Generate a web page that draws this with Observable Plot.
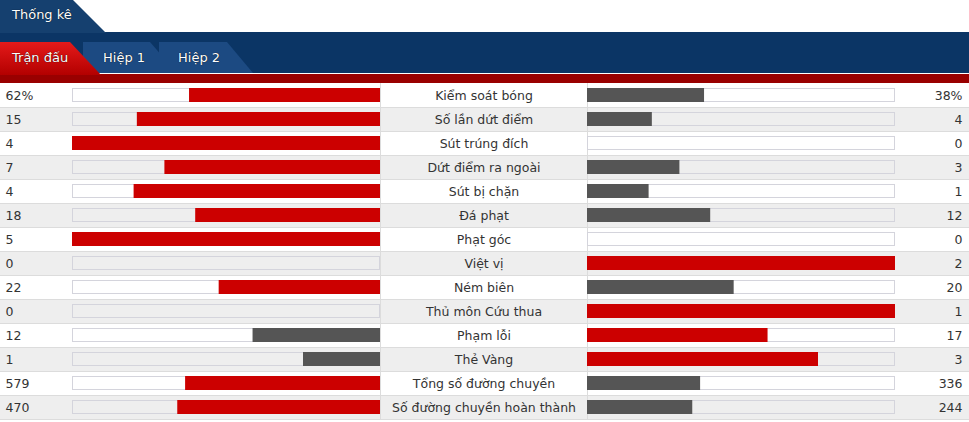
<!DOCTYPE html>
<html>
<head>
<meta charset="utf-8">
<script src="https://cdn.jsdelivr.net/npm/d3@7"></script>
<script src="https://cdn.jsdelivr.net/npm/@observablehq/plot@0.6"></script>
<style>
  html, body { margin: 0; padding: 0; background: #fff; }
  body { width: 969px; height: 422px; overflow: hidden; font-family: "DejaVu Sans", sans-serif; }
  #header { position: relative; width: 969px; height: 83px; }
  #header div { position: absolute; }
  .band { left: 0; top: 32px; width: 969px; height: 41px; background: #0b3565; }
  .white { left: 0; top: 73px; width: 969px; height: 1px; background: #fff; }
  .red { left: 0; top: 74px; width: 969px; height: 9px; background: #990000; }
  .tabTop { left: 0; top: 0; width: 106px; height: 33px; background: #15406f;
            clip-path: polygon(0 0, 73px 0, 106px 33px, 0 33px); }
  .tabRed { left: 0; top: 42px; width: 101px; height: 33px;
            background: linear-gradient(#e41a1a, #b30000);
            clip-path: polygon(0 0, 70px 0, 101px 33px, 0 33px); }
  .tabBlue { top: 42px; width: 95px; height: 31px; background: #1c4a82; }
  .lbl { color: #fff; font-size: 13px; white-space: nowrap; text-shadow: 0 0 1px #000; }
</style>
</head>
<body>
<div id="header">
  <div class="band"></div>
  <div class="white"></div>
  <div class="red"></div>
  <div class="tabTop"></div>
  <div class="tabBlue" style="left:83px; clip-path: polygon(0 0, 67px 0, 94px 31px, 0 31px);"></div>
  <div class="tabBlue" style="left:159px; clip-path: polygon(0 0, 68px 0, 94px 31px, 0 31px);"></div>
  <div class="tabRed"></div>
  <div class="lbl" style="left:12px; top:7px;">Thống kê</div>
  <div class="lbl" style="left:12px; top:50px;">Trận đấu</div>
  <div class="lbl" style="left:103px; top:50px;">Hiệp 1</div>
  <div class="lbl" style="left:178px; top:50px;">Hiệp 2</div>
</div>
<div id="chart"></div>
<script>
const stats = ["Kiểm soát bóng", "Số lần dứt điểm", "Sút trúng đích", "Dứt điểm ra ngoài", "Sút bị chặn", "Đá phạt", "Phạt góc", "Việt vị", "Ném biên", "Thủ môn Cứu thua", "Phạm lỗi", "Thẻ Vàng", "Tổng số đường chuyền", "Số đường chuyền hoàn thành"];
const homeValues = [62, 15, 4, 7, 4, 18, 5, 0, 22, 0, 12, 1, 579, 470];
const awayValues = [38, 4, 0, 3, 1, 12, 0, 2, 20, 1, 17, 3, 336, 244];
const valueSuffix = ["%", "", "", "", "", "", "", "", "", "", "", "", "", ""];

const RED = "#cc0000", GRAY = "#555555";
const W = 969, H = 339;
const unit = 308;              // bar track length in px
const gap = 103.5 / unit;      // half of centre column, in track units
const xMin = -483.5 / unit, xMax = (W - 483.5) / unit;
const rowsN = stats.length;

const rows = stats.map((s, i) => {
  const h = homeValues[i], a = awayValues[i], t = h + a;
  return {
    i, stat: s, home: h, away: a,
    hf: t ? h / t : 0, af: t ? a / t : 0,
    hLabel: h + valueSuffix[i], aLabel: a + valueSuffix[i],
    hColor: h > a ? RED : GRAY, aColor: a > h ? RED : GRAY,
    bg: i % 2 ? "#eeeeee" : "#ffffff"
  };
});

const bandInset = 5 / 24, bandInsetB = 19 / 24;

const chart = Plot.plot({
  width: W, height: H,
  margin: 0,
  x: { domain: [xMin, xMax], range: [0, W], axis: null },
  y: { domain: [0, H / 24], range: [0, H], axis: null },
  style: { fontFamily: "DejaVu Sans, sans-serif", fontSize: "12px", background: "#fff" },
  marks: [
    // row backgrounds
    Plot.rect(rows, { x1: xMin, x2: xMax, y1: d => d.i, y2: d => d.i + 1, fill: "bg" }),
    // row separators
    Plot.ruleY(d3.range(1, rowsN + 1), { x1: xMin, x2: xMax, stroke: "#dcdcdc", strokeWidth: 1 }),
    // column separators
    Plot.ruleX([-gap, gap], { y1: 0, y2: rowsN, stroke: "#dcdcdc" }),
    // bar tracks
    Plot.rect(rows, { x1: -gap - 1, x2: -gap, y1: d => d.i + bandInset, y2: d => d.i + bandInsetB, fill: "none", stroke: "#d4d4dc", insetLeft: 0.5, insetRight: 0.5, insetTop: 0.5, insetBottom: 0.5 }),
    Plot.rect(rows, { x1: gap, x2: gap + 1, y1: d => d.i + bandInset, y2: d => d.i + bandInsetB, fill: "none", stroke: "#d4d4dc", insetLeft: 0.5, insetRight: 0.5, insetTop: 0.5, insetBottom: 0.5 }),
    // home bars (grow leftwards)
    Plot.rect(rows.filter(d => d.hf > 0), { x1: d => -gap - d.hf, x2: -gap, y1: d => d.i + bandInset, y2: d => d.i + bandInsetB, fill: "hColor" }),
    // away bars (grow rightwards)
    Plot.rect(rows.filter(d => d.af > 0), { x1: gap, x2: d => gap + d.af, y1: d => d.i + bandInset, y2: d => d.i + bandInsetB, fill: "aColor" }),
    // labels
    Plot.text(rows, { x: xMin, y: d => d.i + 0.5, text: "hLabel", textAnchor: "start", dx: 5, fill: "#333", fontSize: 12.5 }),
    Plot.text(rows, { x: xMax, y: d => d.i + 0.5, text: "aLabel", textAnchor: "end", dx: -7, fill: "#333", fontSize: 12.5 }),
    Plot.text(rows, { x: 0, y: d => d.i + 0.5, text: "stat", textAnchor: "middle", fill: "#333", fontSize: 12.5 })
  ]
});
document.getElementById("chart").appendChild(chart);
</script>
</body>
</html>
